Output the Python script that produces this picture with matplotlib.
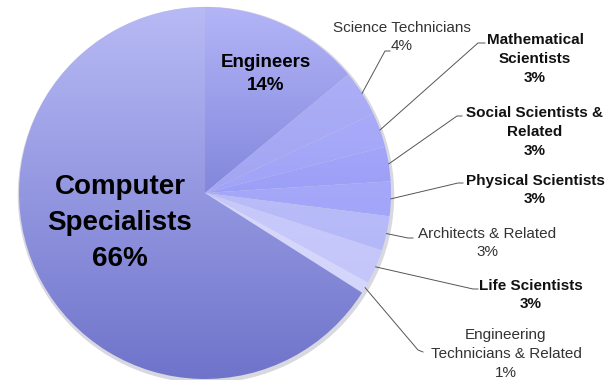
import numpy as np
import matplotlib
matplotlib.use("Agg")
import matplotlib.pyplot as plt

plt.rcParams['font.family'] = ['Liberation Sans', 'DejaVu Sans']

# data, clockwise from 12 o'clock
categories = ['Engineers', 'Science Technicians', 'Mathematical\nScientists',
              'Social Scientists &\nRelated', 'Physical Scientists',
              'Architects & Related', 'Life Scientists',
              'Engineering\nTechnicians & Related', 'Computer\nSpecialists']
shares = [14, 4, 3, 3, 3, 3, 3, 1, 66]
bold = [True, False, True, True, True, False, True, False, True]

# gradient colours per slice (top, bottom)
grad_top = ['#b3b5f7', '#acaef6', '#a9abf9', '#a3a5f9', '#a6a8f9',
            '#babcf9', '#c8c9fb', '#d8d8fc', '#b8baf5']
grad_bot = ['#8287dc', '#a2a5f2', '#a0a3f7', '#9c9ff7', '#a2a5f8',
            '#b5b8f8', '#c4c6fa', '#d4d5fb', '#6f74cb']

fig = plt.figure(figsize=(6.1, 3.8), dpi=100)
ax = fig.add_axes([0, 0, 1, 1])

cx, cy, R = 205, 187, 186
wedges, _ = ax.pie(shares, startangle=90, counterclock=False, radius=R,
                   center=(cx, cy), frame=True,
                   wedgeprops=dict(linewidth=0))
ax.set_xlim(0, 610)
ax.set_ylim(0, 380)
ax.set_aspect('equal')
ax.axis('off')

# soft shadow ring
shadow = plt.Circle((cx + 1, cy - 2), R + 1.5, color='#d8d8e0', zorder=0.5)
ax.add_patch(shadow)

# gradient fill clipped to each wedge
for w, c0, c1 in zip(wedges, grad_top, grad_bot):
    y0, y1 = w.get_path().get_extents(w.get_transform() - ax.transData).intervaly
    t = np.linspace(0, 1, 256)[:, None]
    a = np.array(matplotlib.colors.to_rgb(c0))
    b = np.array(matplotlib.colors.to_rgb(c1))
    img = (a * (1 - t) + b * t)[:, None, :].repeat(2, axis=1)
    im = ax.imshow(img, extent=(cx - R, cx + R, y0, y1), origin='upper',
                   aspect='auto', zorder=1)
    w.set_facecolor('none')
    im.set_clip_path(w)

ax.set_xlim(0, 610)
ax.set_ylim(0, 380)

# inner labels
ax.text(120, 380 - 223, f'{categories[8]}\n{shares[8]}%', ha='center', va='center',
        fontsize=20, fontweight='bold', linespacing=1.5, zorder=3)
ax.text(266, 380 - 74, f'{categories[0]}\n{shares[0]}%', ha='center', va='center',
        fontsize=13.5, fontweight='bold', linespacing=1.42, zorder=3)

# outer labels: text centre, leader elbow, leader end (pixel coords, y down)
outer = {
    1: ((402, 37), (385, 51), (390, 51)),
    2: ((535, 59), (478, 43), (485, 43)),
    3: ((535, 132), (457, 116), (462, 116)),
    4: ((535, 190), (458, 183), (463, 183)),
    5: ((487, 243), (408, 238), (413, 238)),
    6: ((531, 295), (473, 289), (478, 289)),
    7: ((506, 354), (418, 350), (423, 352)),
}

for i, (tpos, elbow, end) in outer.items():
    w = wedges[i]
    mid = np.deg2rad((w.theta1 + w.theta2) / 2)
    sx, sy = cx + R * np.cos(mid), cy + R * np.sin(mid)
    ax.plot([sx, elbow[0], end[0]], [sy, 380 - elbow[1], 380 - end[1]],
            color='#555555', lw=0.7, zorder=2)
    ax.text(tpos[0], 380 - tpos[1], f'{categories[i]}\n{shares[i]}%',
            ha='center', va='center', fontsize=11,
            fontweight='bold' if bold[i] else 'normal',
            color='#111111' if bold[i] else '#333333', linespacing=1.45)

fig.savefig('out.png', dpi=100)
